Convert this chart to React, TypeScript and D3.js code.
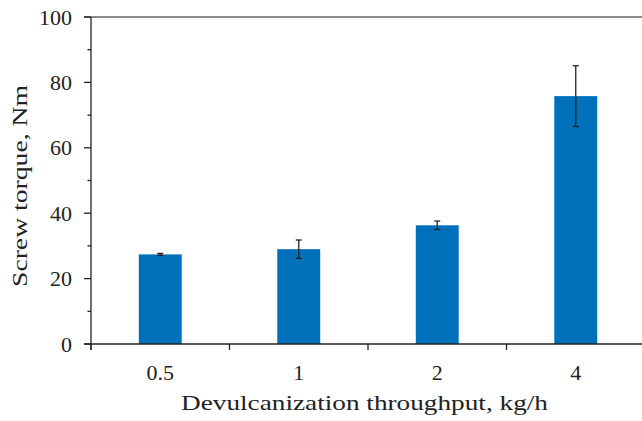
import React from "react";
import * as d3 from "d3";

const categories = ["0.5", "1", "2", "4"];
const torque = [27.4, 29.0, 36.3, 75.8];
const errors = [0.3, 2.8, 1.3, 9.3];
const yMajorTicks = [0, 20, 40, 60, 80, 100];
const yMinorTicks = [10, 30, 50, 70, 90];

const W = 642;
const H = 421;
const margin = { left: 91, right: -3, top: 17, bottom: 77 };
const FONT = "'Liberation Serif', serif";
const FS = 22;

export default function App() {
  const x = d3
    .scaleBand<string>()
    .domain(categories)
    .range([margin.left, W - margin.right])
    .paddingInner(0)
    .paddingOuter(0);
  const y = d3.scaleLinear().domain([0, 100]).range([H - margin.bottom, margin.top]);
  const bw = x.bandwidth() * 0.31;
  const axisColor = "#222";
  const bounds = [...categories.map((c) => x(c)!), W - margin.right];

  return (
    <svg width={W} height={H} style={{ position: "absolute", left: 0, top: 0 }}>
      <rect width={W} height={H} fill="#fff" />
      {/* top border line */}
      <line x1={84} x2={W} y1={y(100)} y2={y(100)} stroke="#666" strokeWidth={1.5} />
      {categories.map((c, i) => {
        const cx = x(c)! + x.bandwidth() / 2;
        return (
          <g key={c}>
            <rect x={cx - bw / 2} y={y(torque[i])} width={bw} height={y(0) - y(torque[i])} fill="#0070BA" />
            <line x1={cx} x2={cx} y1={y(torque[i] + errors[i])} y2={y(torque[i] - errors[i])} stroke="#222" strokeWidth={1.3} />
            <line x1={cx - 3} x2={cx + 3} y1={y(torque[i] + errors[i])} y2={y(torque[i] + errors[i])} stroke="#222" strokeWidth={1.3} />
            <line x1={cx - 3} x2={cx + 3} y1={y(torque[i] - errors[i])} y2={y(torque[i] - errors[i])} stroke="#222" strokeWidth={1.3} />
            <text x={cx} y={380} textAnchor="middle" fontFamily={FONT} fontSize={FS} fill="#222">
              {c}
            </text>
          </g>
        );
      })}
      {/* y axis */}
      <line x1={margin.left} x2={margin.left} y1={y(100)} y2={y(0) + 6} stroke={axisColor} strokeWidth={1.3} />
      {yMajorTicks.map((t) => (
        <g key={t}>
          <line x1={margin.left - 7} x2={margin.left} y1={y(t)} y2={y(t)} stroke={axisColor} strokeWidth={1.3} />
          <text x={72} y={y(t) + 7.5} textAnchor="end" fontFamily={FONT} fontSize={FS} fill="#222">
            {t}
          </text>
        </g>
      ))}
      {yMinorTicks.map((t) => (
        <line key={t} x1={margin.left - 3.5} x2={margin.left} y1={y(t)} y2={y(t)} stroke={axisColor} strokeWidth={1.3} />
      ))}
      {/* x axis */}
      <line x1={84} x2={W} y1={y(0)} y2={y(0)} stroke={axisColor} strokeWidth={1.5} />
      {bounds.map((b, i) => (
        <line key={i} x1={b} x2={b} y1={y(0)} y2={y(0) + 6} stroke={axisColor} strokeWidth={1.3} />
      ))}
      <text
        x={181}
        y={410}
        textLength={367}
        lengthAdjust="spacingAndGlyphs"
        fontFamily={FONT}
        fontSize={FS}
        fill="#222"
      >
        Devulcanization throughput, kg/h
      </text>
      <text
        transform={`translate(27, 287) rotate(-90)`}
        textLength={202}
        lengthAdjust="spacingAndGlyphs"
        fontFamily={FONT}
        fontSize={FS}
        fill="#222"
      >
        Screw torque, Nm
      </text>
    </svg>
  );
}
